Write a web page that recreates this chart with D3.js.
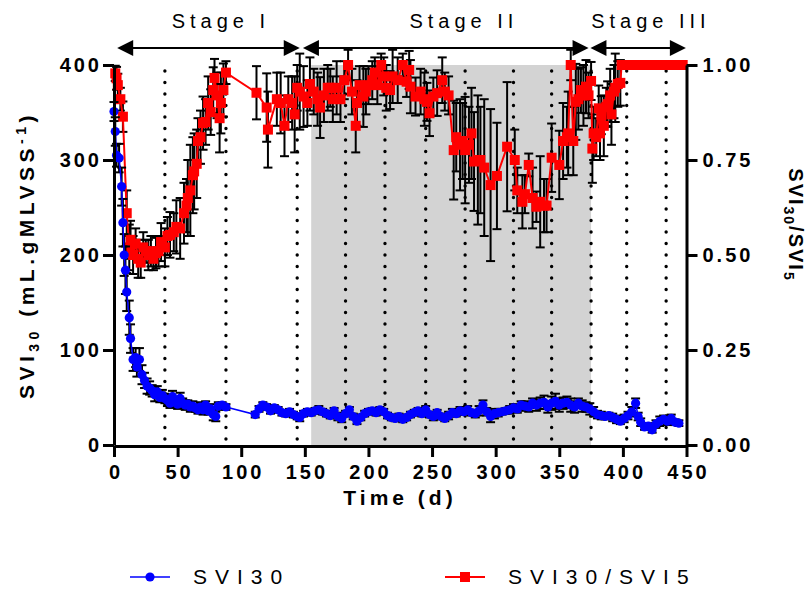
<!DOCTYPE html>
<html>
<head>
<meta charset="utf-8">
<script src="https://cdn.jsdelivr.net/npm/d3@7"></script>
<style>
  body { margin: 0; background: #fff; }
  svg { display: block; font-family: "Liberation Sans", Arial, sans-serif; }
</style>
</head>
<body>
<div></div>
<script>
// SVI30 (mL/g MLVSS): [day, value, sd]
const svi30 = [
  [0,351,10],[1,330,15],[2,305,12],[4,302,15],[6,272,20],[7,234,25],[8,200,22],[9,184,25],[10,161,20],
  [12,134,18],[13,112,15],[15,90,12],[17,92,10],[18,82,10],[20,90,12],[22,74,10],[24,68,8],[26,62,8],
  [28,60,7],[30,57,6],[32,53,7],[34,56,6],[36,50,5],[38,52,6],[40,49,5],[42,47,6],[44,44,5],[46,51,6],
  [48,45,5],[50,43,5],[52,49,6],[54,44,5],[56,42,5],[58,43,4],[60,40,5],[62,41,5],[64,39,4],[66,37,4],
  [68,40,5],[70,37,5],[72,42,4],[74,36,4],[76,38,5],[78,32,6],[80,30,5],[82,41,4],[85,42,3],[88,40,3],
  [111,32,3],[114,38,3],[117,42,3],[120,40,3],[123,36,3],[126,39,3],[129,37,3],[132,34,3],[135,33,3],
  [138,35,3],[141,32,3],[144,30,3],[146,29,4],[149,33,3],[152,35,3],[155,34,3],[158,36,3],[161,37,4],
  [164,35,3],[167,33,3],[170,31,3],[173,36,3],[176,30,4],[179,28,4],[182,33,3],[185,37,3],[188,30,3],
  [191,25,3],[194,29,3],[197,33,3],[200,35,3],[203,36,3],[206,34,3],[209,37,3],[212,35,3],[215,31,3],
  [218,29,3],[221,28,3],[224,30,3],[227,27,3],[230,29,3],[233,32,3],[236,34,3],[239,36,3],[242,33,3],
  [245,37,4],[248,32,3],[251,30,4],[254,34,3],[257,30,3],[260,28,3],[263,31,4],[266,34,4],[269,33,3],
  [272,36,4],[275,35,3],[278,37,4],[281,34,3],[284,33,4],[287,36,5],[290,42,5],[293,35,4],[296,30,6],
  [299,33,5],[302,34,4],[305,35,3],[308,36,3],[311,37,4],[314,39,4],[317,38,4],[320,42,4],[323,41,5],
  [326,40,5],[329,44,5],[332,42,6],[335,44,6],[338,45,7],[341,40,6],[344,44,7],[347,46,8],[350,42,7],
  [353,44,6],[356,45,6],[359,42,7],[362,40,6],[365,44,5],[368,41,6],[371,40,5],[374,38,6],[377,35,5],
  [380,32,4],[383,31,4],[386,30,3],[389,31,3],[392,29,4],[395,27,4],[398,25,3],[401,28,4],[404,31,4],
  [407,35,5],[410,44,5],[412,30,4],[414,24,4],[417,19,3],[420,20,3],[423,16,3],[426,22,4],[429,25,5],
  [432,27,4],[435,25,4],[438,28,4],[441,24,3],[444,23,3]
];

// SVI30/SVI5 ratio: [day, value, sd]
const ratio = [
  [1,0.978,0.02],[2,0.965,0.03],[3,0.947,0.03],[5,0.91,0.03],[7,0.864,0.04],[10,0.61,0.06],[12,0.52,0.06],
  [13,0.54,0.05],[15,0.5,0.05],[17,0.53,0.04],[19,0.49,0.05],[21,0.48,0.04],[23,0.52,0.04],[25,0.51,0.03],
  [27,0.5,0.04],[29,0.51,0.04],[31,0.49,0.03],[33,0.505,0.04],[35,0.51,0.04],[37,0.534,0.05],[40,0.52,0.05],
  [42,0.55,0.05],[44,0.553,0.06],[47,0.56,0.05],[49,0.574,0.07],[52,0.57,0.08],[55,0.61,0.08],[57,0.63,0.07],
  [58,0.65,0.1],[60,0.67,0.12],[62,0.71,0.1],[63,0.72,0.1],[65,0.74,0.09],[66,0.8,0.06],[68,0.81,0.07],
  [70,0.847,0.07],[72,0.85,0.06],[74,0.9,0.07],[76,0.876,0.06],[78,0.934,0.06],[79,0.966,0.05],[81,0.92,0.06],
  [83,0.86,0.09],[84,0.9,0.08],[86,0.934,0.07],[88,0.98,0.03],
  [112,0.927,0.07],[120,0.888,0.09],[121,0.83,0.1],[128,0.91,0.07],[131,0.9,0.08],[134,0.84,0.08],
  [137,0.91,0.06],[140,0.9,0.07],[142,0.87,0.1],[144,0.94,0.06],[146,0.93,0.1],[149,0.917,0.08],
  [152,0.9,0.06],[154,0.95,0.07],[157,0.93,0.06],[160,0.91,0.07],[162,0.888,0.08],[165,0.92,0.07],
  [168,0.94,0.06],[170,0.94,0.05],[172,0.91,0.06],[175,0.94,0.07],[178,0.91,0.06],[181,0.96,0.05],
  [184,1.0,0.04],[187,0.93,0.06],[190,0.84,0.07],[191,0.9,0.06],[193,0.947,0.05],[196,0.917,0.08],
  [198,0.93,0.06],[200,0.947,0.05],[203,0.96,0.05],[205,0.98,0.04],[207,0.947,0.05],[210,1.0,0.03],
  [212,0.97,0.05],[214,0.94,0.06],[217,0.934,0.05],[219,0.97,0.07],[223,0.96,0.06],[227,1.0,0.03],
  [230,0.956,0.04],[232,0.987,0.05],[233,0.943,0.07],[237,0.917,0.05],[241,0.93,0.06],[244,0.91,0.07],
  [246,0.903,0.05],[248,0.873,0.06],[251,0.917,0.05],[254,0.926,0.06],[258,0.96,0.06],[260,0.93,0.05],
  [263,0.92,0.05],[267,0.776,0.13],[269,0.81,0.09],[272,0.79,0.12],[274,0.8,0.1],[276,0.776,0.14],
  [279,0.79,0.1],[281,0.82,0.12],[283,0.746,0.13],[286,0.75,0.17],[288,0.75,0.14],[291,0.73,0.18],
  [296,0.684,0.2],[301,0.708,0.14],[309,0.785,0.17],[315,0.75,0.08],[317,0.67,0.06],[321,0.64,0.07],
  [323,0.66,0.05],[326,0.737,0.03],[329,0.65,0.08],[332,0.627,0.04],[335,0.64,0.12],[338,0.63,0.07],
  [340,0.63,0.07],[344,0.756,0.09],[350,0.737,0.09],[353,0.8,0.1],[356,0.81,0.08],[357,0.82,0.11],
  [359,1.0,0.04],[361,0.8,0.09],[363,0.903,0.1],[365,0.91,0.08],[367,0.934,0.06],[369,0.92,0.08],
  [371,0.943,0.07],[373,0.92,0.06],[375,0.958,0.05],[376,0.78,0.09],[377,0.82,0.07],[379,0.81,0.05],
  [381,0.886,0.06],[382,0.82,0.07],[383,0.868,0.05],[385,0.84,0.08],[387,0.89,0.05],[388,0.897,0.06],
  [390,0.92,0.07],[391,0.87,0.08],[393,0.93,0.07],[394,0.94,0.09],[396,0.95,0.06],[398,0.953,0.06],
  [399,1,0],[401,1,0],[403,1,0],[405,1,0],[407,1,0],[409,1,0],[411,1,0],[413,1,0],[415,1,0],[417,1,0],
  [419,1,0],[421,1,0],[423,1,0],[425,1,0],[427,1,0],[429,1,0],[431,1,0],[433,1,0],[435,1,0],[437,1,0],
  [439,1,0],[441,1,0],[443,1,0],[445,1,0],[447,1,0]
];

const xTicks = [0, 50, 100, 150, 200, 250, 300, 350, 400, 450];
const leftTicks = [0, 100, 200, 300, 400];
const rightTicks = [0, 0.25, 0.5, 0.75, 1.0];
const dottedDays = [40, 88, 144, 182, 213, 245, 276, 314, 344, 375, 403, 434];
const shadedBand = [155, 375];
const stages = [
  { label: "Stage I", from: 2.5, to: 146, labelAt: 84 },
  { label: "Stage II", from: 148.5, to: 373, labelAt: 275 },
  { label: "Stage III", from: 374.5, to: 449.5, labelAt: 422 }
];

const W = 809, H = 590;
const plotL = 114, plotR = 686.5, plotT = 65, plotB = 445;

const svg = d3.select('div').append('svg')
  .attr('width', W).attr('height', H)
  .attr('viewBox', `0 0 ${W} ${H}`);

const x = d3.scaleLinear().domain([0, 450]).range([plotL, plotR]);
const yL = d3.scaleLinear().domain([0, 400]).range([plotB, plotT]);
const yR = d3.scaleLinear().domain([0, 1]).range([plotB, plotT]);

// grey band for stage II
svg.append('rect')
  .attr('x', x(shadedBand[0])).attr('y', plotT)
  .attr('width', x(shadedBand[1]) - x(shadedBand[0]))
  .attr('height', plotB - plotT)
  .attr('fill', '#d3d3d3');

// dotted verticals
svg.append('g').selectAll('line')
  .data(dottedDays)
  .join('line')
  .attr('x1', d => x(d)).attr('x2', d => x(d))
  .attr('y1', plotT + 6).attr('y2', plotB)
  .attr('stroke', '#000')
  .attr('stroke-width', 3.4)
  .attr('stroke-linecap', 'round')
  .attr('stroke-dasharray', '0 11.5');

// error bars + series
function drawSeries(data, y, color, marker) {
  const g = svg.append('g');
  const bars = g.append('g').attr('stroke', '#000').attr('stroke-width', 2);
  data.filter(d => d[2] > 0).forEach(d => {
    const xx = x(d[0]), y0 = y(d[1] - d[2]), y1 = y(d[1] + d[2]);
    bars.append('line').attr('x1', xx).attr('x2', xx).attr('y1', y0).attr('y2', y1);
    bars.append('line').attr('x1', xx - 4.5).attr('x2', xx + 4.5).attr('y1', y0).attr('y2', y0);
    bars.append('line').attr('x1', xx - 4.5).attr('x2', xx + 4.5).attr('y1', y1).attr('y2', y1);
  });
  g.append('path')
    .datum(data)
    .attr('fill', 'none')
    .attr('stroke', color)
    .attr('stroke-width', marker === 'circle' ? 1.5 : 2)
    .attr('d', d3.line().x(d => x(d[0])).y(d => y(d[1])));
  if (marker === 'circle') {
    g.append('g').selectAll('circle').data(data).join('circle')
      .attr('cx', d => x(d[0])).attr('cy', d => y(d[1]))
      .attr('r', 4.6).attr('fill', color);
  } else {
    g.append('g').selectAll('rect').data(data).join('rect')
      .attr('x', d => x(d[0]) - 5).attr('y', d => y(d[1]) - 5)
      .attr('width', 10).attr('height', 10).attr('fill', color);
  }
}

drawSeries(ratio, yR, '#ff0000', 'square');
drawSeries(svi30, yL, '#0000ff', 'circle');

// axes
function styleAxis(g) {
  g.select('.domain').attr('stroke', '#000').attr('stroke-width', 3);
  g.selectAll('.tick line').attr('stroke', '#000').attr('stroke-width', 3);
  g.selectAll('.tick text')
    .attr('font-size', 20).attr('font-weight', 'bold')
    .attr('fill', '#000').attr('letter-spacing', '3px');
}

svg.append('g')
  .attr('transform', `translate(${plotL},0)`)
  .call(d3.axisLeft(yL).tickValues(leftTicks).tickSize(11).tickSizeOuter(0).tickPadding(1))
  .call(styleAxis);

svg.append('g')
  .attr('transform', `translate(${plotR},0)`)
  .call(d3.axisRight(yR).tickValues(rightTicks).tickSize(11).tickSizeOuter(0).tickPadding(5)
    .tickFormat(d3.format('.2f')))
  .call(styleAxis);

svg.append('g')
  .attr('transform', `translate(0,${plotB + 1})`)
  .call(d3.axisBottom(x).tickValues(xTicks).tickSize(11).tickSizeOuter(0).tickPadding(8))
  .call(styleAxis)
  .selectAll('.tick text').attr('dx', '1.5px');

// axis titles
const yTitle = svg.append('text')
  .attr('transform', `translate(34,${(plotT + plotB) / 2}) rotate(-90)`)
  .attr('text-anchor', 'middle')
  .attr('font-size', 21).attr('font-weight', 'bold').attr('letter-spacing', '4.5px');
yTitle.append('tspan').text('SVI');
yTitle.append('tspan').attr('font-size', 14).attr('dy', 5).text('30');
yTitle.append('tspan').attr('dy', -5).text(' (mL.gMLVSS');
yTitle.append('tspan').attr('font-size', 14).attr('dy', -8).text('-1');
yTitle.append('tspan').attr('dy', 8).text(')');

const rTitle = svg.append('text')
  .attr('transform', `translate(789,${(plotT + plotB) / 2 - 30}) rotate(90)`)
  .attr('text-anchor', 'middle')
  .attr('font-size', 20).attr('font-weight', 'bold').attr('letter-spacing', '2px');
rTitle.append('tspan').text('SVI');
rTitle.append('tspan').attr('font-size', 14).attr('dy', 5).text('30');
rTitle.append('tspan').attr('dy', -5).text('/SVI');
rTitle.append('tspan').attr('font-size', 14).attr('dy', 5).text('5');

svg.append('text')
  .attr('x', 400).attr('y', 505)
  .attr('text-anchor', 'middle')
  .attr('font-size', 21).attr('font-weight', 'bold').attr('letter-spacing', '4px')
  .text('Time (d)');

// stage arrows
const arrowY = 48;
const sg = svg.append('g');
stages.forEach(s => {
  const a = x(s.from), b = x(s.to);
  sg.append('line').attr('x1', a + 10).attr('x2', b - 10)
    .attr('y1', arrowY).attr('y2', arrowY)
    .attr('stroke', '#000').attr('stroke-width', 2);
  sg.append('path').attr('d', `M${a},${arrowY}L${a + 16},${arrowY - 8}L${a + 16},${arrowY + 8}Z`).attr('fill', '#000');
  sg.append('path').attr('d', `M${b},${arrowY}L${b - 16},${arrowY - 8}L${b - 16},${arrowY + 8}Z`).attr('fill', '#000');
  sg.append('text')
    .attr('x', x(s.labelAt)).attr('y', 28)
    .attr('text-anchor', 'middle')
    .attr('font-size', 20).attr('letter-spacing', '5px')
    .text(s.label);
});

// legend
const legend = [
  { label: 'SVI30', color: '#0000ff', marker: 'circle', x: 130 },
  { label: 'SVI30/SVI5', color: '#ff0000', marker: 'square', x: 445 }
];
const lg = svg.append('g');
legend.forEach(l => {
  const ly = 577;
  lg.append('line').attr('x1', l.x).attr('x2', l.x + 40).attr('y1', ly).attr('y2', ly)
    .attr('stroke', l.color).attr('stroke-width', l.marker === 'circle' ? 1.5 : 2);
  if (l.marker === 'circle') {
    lg.append('circle').attr('cx', l.x + 20).attr('cy', ly).attr('r', 4.6).attr('fill', l.color);
  } else {
    lg.append('rect').attr('x', l.x + 15).attr('y', ly - 5).attr('width', 10).attr('height', 10).attr('fill', l.color);
  }
  lg.append('text').attr('x', l.x + 63).attr('y', ly + 7)
    .attr('font-size', 21).attr('letter-spacing', '8px')
    .text(l.label);
});
</script>
</body>
</html>
